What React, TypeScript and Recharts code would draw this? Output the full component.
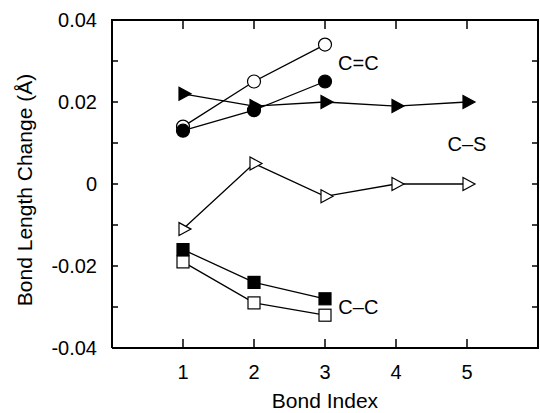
import { LineChart, Line, XAxis, YAxis, ReferenceDot } from 'recharts';

// bond index along the chain
const bondIndex = [1, 2, 3, 4, 5];

// C=C bonds
const doubleOpen = [0.014, 0.025, 0.034];
const doubleFilled = [0.013, 0.018, 0.025];

// C-S bonds
const sulfurFilled = [0.022, 0.019, 0.02, 0.019, 0.02];
const sulfurOpen = [-0.011, 0.005, -0.003, 0, 0];

// C-C bonds
const singleFilled = [-0.016, -0.024, -0.028];
const singleOpen = [-0.019, -0.029, -0.032];

const xTicks = [1, 2, 3, 4, 5];
const yTicks = [-0.04, -0.03, -0.02, -0.01, 0, 0.01, 0.02, 0.03, 0.04];
const xDomain = [0, 6];
const yDomain = [-0.04, 0.04];

const bondLabels = ['C=C', 'C\u2013S', 'C\u2013C'];
const bondLabelX = [3.47, 5, 3.47];
const bondLabelY = [0.0295, 0.0098, -0.03];

const data = bondIndex.map((b, i) => ({
  bond: b,
  doubleOpen: doubleOpen[i],
  doubleFilled: doubleFilled[i],
  sulfurFilled: sulfurFilled[i],
  sulfurOpen: sulfurOpen[i],
  singleOpen: singleOpen[i],
  singleFilled: singleFilled[i],
}));

const W = 540;
const H = 413;
// plot box inside the chart
const BOX = { left: 112, top: 20, right: 538, bottom: 348 };
const FONT = '"Liberation Sans", Arial, Helvetica, sans-serif';
const axisLine = { stroke: '#000', strokeWidth: 2 };
const tickLine = { stroke: '#000', strokeWidth: 1.5 };
const layer = { position: 'absolute' as const, left: 0, top: 0, width: W, height: H };

function makeDot(kind: 'circle' | 'square' | 'tri', filled: boolean) {
  return (p: any) => {
    const { cx, cy, index } = p;
    const key = `${kind}-${filled ? 'f' : 'o'}-${index}`;
    if (typeof cx !== 'number' || typeof cy !== 'number' || !isFinite(cy) || p.value == null) {
      return <g key={key} />;
    }
    const fill = filled ? '#000' : '#fff';
    if (kind === 'circle') {
      return <circle key={key} cx={cx} cy={cy} r={6.5} fill={fill} stroke="#000" strokeWidth={1.2} />;
    }
    if (kind === 'square') {
      return <rect key={key} x={cx - 6} y={cy - 6} width={12} height={12} fill={fill} stroke="#000" strokeWidth={1.2} />;
    }
    const pts = `${cx - 4},${cy - 6.5} ${cx - 4},${cy + 6.5} ${cx + 8},${cy}`;
    return <polygon key={key} points={pts} fill={fill} stroke="#000" strokeWidth={1.2} strokeLinejoin="miter" />;
  };
}

const series: { key: string; kind: 'circle' | 'square' | 'tri'; filled: boolean }[] = [
  { key: 'doubleOpen', kind: 'circle', filled: false },
  { key: 'doubleFilled', kind: 'circle', filled: true },
  { key: 'sulfurFilled', kind: 'tri', filled: true },
  { key: 'sulfurOpen', kind: 'tri', filled: false },
  { key: 'singleOpen', kind: 'square', filled: false },
  { key: 'singleFilled', kind: 'square', filled: true },
];

const yFormat = (v: number) => {
  const n = Math.round(v * 100);
  if (n % 2 !== 0) return '';
  return n === 0 ? '0' : v.toFixed(2);
};

// top/right edges of the box (the axes only draw left and bottom)
const boxX = (t: number) => BOX.left + ((t - xDomain[0]) / (xDomain[1] - xDomain[0])) * (BOX.right - BOX.left);
const boxY = (v: number) => BOX.top + ((yDomain[1] - v) / (yDomain[1] - yDomain[0])) * (BOX.bottom - BOX.top);

function FrameEdges() {
  return (
    <g stroke="#000" fill="none">
      <line x1={BOX.left - 1} y1={BOX.top} x2={BOX.right + 1} y2={BOX.top} strokeWidth={2} />
      <line x1={BOX.right} y1={BOX.top} x2={BOX.right} y2={BOX.bottom + 1} strokeWidth={2} />
      {xTicks.map((t) => (
        <line key={`tt-${t}`} x1={boxX(t)} y1={BOX.top} x2={boxX(t)} y2={BOX.top + 9} strokeWidth={1.5} />
      ))}
      {yTicks.slice(1, -1).map((v) => (
        <line key={`rt-${v}`} x1={BOX.right} y1={boxY(v)} x2={BOX.right - 6} y2={boxY(v)} strokeWidth={1.5} />
      ))}
    </g>
  );
}

export default function App() {
  return (
    <div style={{ ...layer, fontFamily: FONT, background: '#fff' }}>
      <div style={layer}>
        <LineChart width={W} height={H} data={data} margin={{ top: BOX.top, right: W - BOX.right, bottom: 0, left: 0 }}>
          <XAxis
            dataKey="bond"
            type="number"
            domain={xDomain}
            ticks={xTicks}
            interval={0}
            allowDataOverflow
            height={H - BOX.bottom}
            tickSize={-9}
            tickMargin={26}
            axisLine={axisLine}
            tickLine={tickLine}
            tick={{ fill: '#000', fontSize: 20, fontFamily: FONT }}
          />
          <YAxis
            type="number"
            domain={yDomain}
            ticks={yTicks}
            interval={0}
            allowDataOverflow
            width={BOX.left}
            tickSize={-6}
            tickMargin={21}
            tickFormatter={yFormat}
            axisLine={axisLine}
            tickLine={tickLine}
            tick={{ fill: '#000', fontSize: 20, fontFamily: FONT }}
          />
          {series.map((s) => (
            <Line
              key={s.key}
              dataKey={s.key}
              stroke="#000"
              strokeWidth={1.3}
              dot={makeDot(s.kind, s.filled)}
              activeDot={false}
              isAnimationActive={false}
              connectNulls={false}
            />
          ))}
          {bondLabels.map((t, i) => (
            <ReferenceDot
              key={t}
              x={bondLabelX[i]}
              y={bondLabelY[i]}
              r={0}
              fill="none"
              stroke="none"
              label={{ value: t, position: 'center', fill: '#000', fontSize: 20, fontFamily: FONT }}
            />
          ))}
        </LineChart>
      </div>
      <svg width={W} height={H} style={{ ...layer, pointerEvents: 'none' }}>
        <FrameEdges />
        <text x={325} y={408} textAnchor="middle" fontSize={21} fill="#000" fontFamily={FONT}>
          Bond Index
        </text>
        <text x={32} y={190} transform="rotate(-90 32 190)" textAnchor="middle" fontSize={21} fill="#000" fontFamily={FONT}>
          Bond Length Change (Å)
        </text>
      </svg>
    </div>
  );
}
